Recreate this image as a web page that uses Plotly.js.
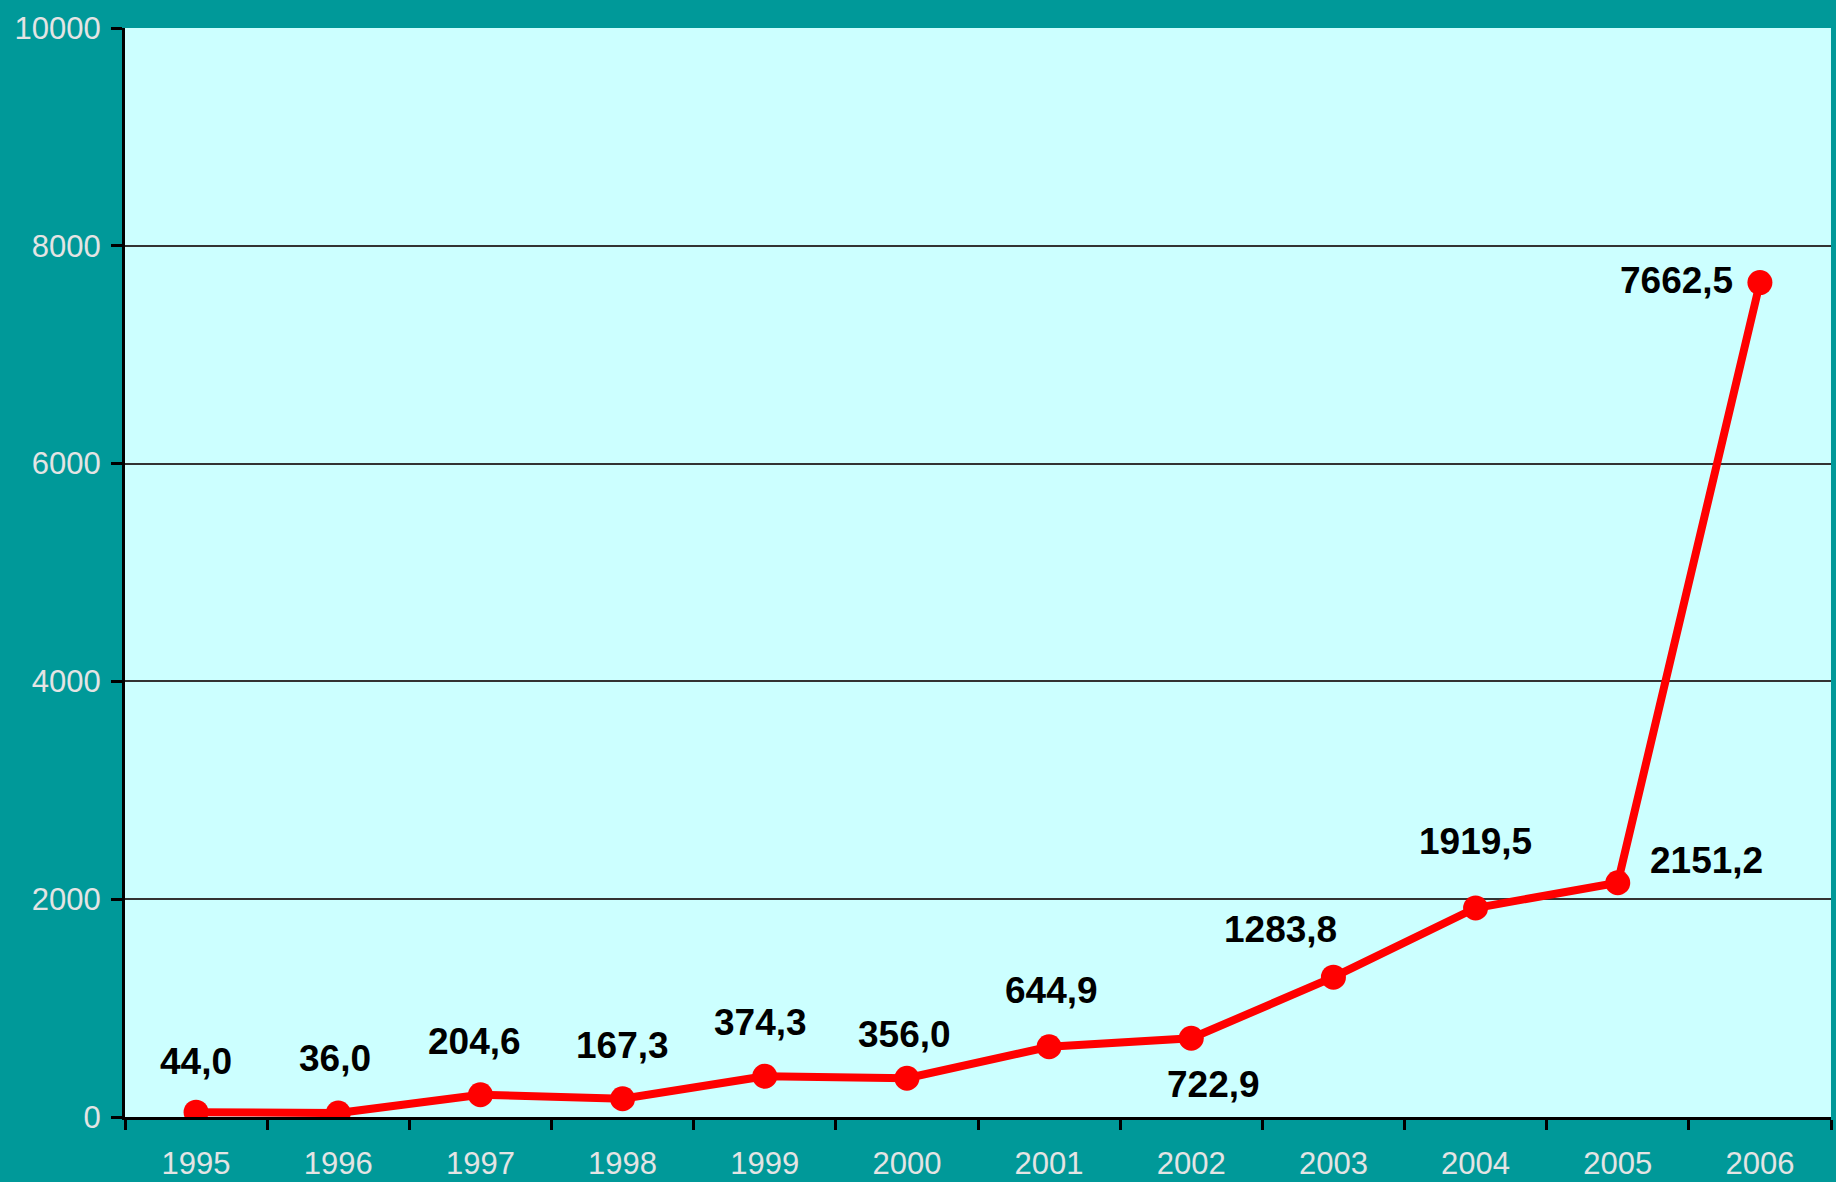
<!DOCTYPE html>
<html>
<head>
<meta charset="utf-8">
<script src="https://cdn.plot.ly/plotly-3.0.1.min.js"></script>
<style>html,body{margin:0;padding:0;background:#009999;}#chart{width:1836px;height:1182px;}</style>
</head>
<body>
<div id="chart"></div>
<script>
const years = ['1995','1996','1997','1998','1999','2000','2001','2002','2003','2004','2005','2006'];
const values = [44.0, 36.0, 204.6, 167.3, 374.3, 356.0, 644.9, 722.9, 1283.8, 1919.5, 2151.2, 7662.5];
const yTicks = [0, 2000, 4000, 6000, 8000, 10000];

// label offsets (style only, in pixels)
const labelDx = [0, -3, -6, 0, -4, -2, 2, 22, -53, 0, 89, -83];
const labelDy = [51, 55, 53, 53, 54, 44, 56, -46, 48, 66, 22, 2];

const fmt = v => v.toFixed(1).replace('.', ',');

const trace = {
  x: years,
  y: values,
  type: 'scatter',
  mode: 'lines+markers',
  line: {color: '#FF0000', width: 8},
  marker: {color: '#FF0000', size: 25},
  hoverinfo: 'skip'
};

const annotations = years.map((yr, i) => ({
  x: i, y: values[i], xref: 'x', yref: 'y',
  text: '<b>' + fmt(values[i]) + '</b>', showarrow: false,
  xshift: labelDx[i], yshift: labelDy[i],
  font: {family: 'Liberation Sans, Arial, sans-serif', size: 37, color: '#000000'},
  xanchor: 'center', yanchor: 'middle'
}));

const layout = {
  width: 1836, height: 1182,
  margin: {l: 125, r: 5, t: 28, b: 65},
  paper_bgcolor: '#009999',
  plot_bgcolor: '#CCFFFF',
  showlegend: false,
  font: {family: 'Liberation Sans, Arial, sans-serif'},
  xaxis: {
    type: 'category',
    range: [-0.5, 11.5],
    tickson: 'boundaries',
    ticks: 'outside', ticklen: 10, tickwidth: 3, tickcolor: '#000000',
    showline: true, linecolor: '#000000', linewidth: 3,
    showgrid: false, zeroline: false,
    tickfont: {size: 31, color: '#E4E4E4'},
    ticklabelstandoff: 17
  },
  yaxis: {
    range: [0, 10000],
    tickvals: yTicks,
    tickformat: 'd',
    ticks: 'outside', ticklen: 11, tickwidth: 3, tickcolor: '#000000',
    showline: true, linecolor: '#000000', linewidth: 3,
    showgrid: true, gridcolor: '#333333', gridwidth: 2,
    zeroline: false,
    tickfont: {size: 31, color: '#E4E4E4'},
    ticklabelstandoff: 4
  },
  annotations: annotations
};

Plotly.newPlot('chart', [trace], layout, {displayModeBar: false, staticPlot: true});
</script>
</body>
</html>
